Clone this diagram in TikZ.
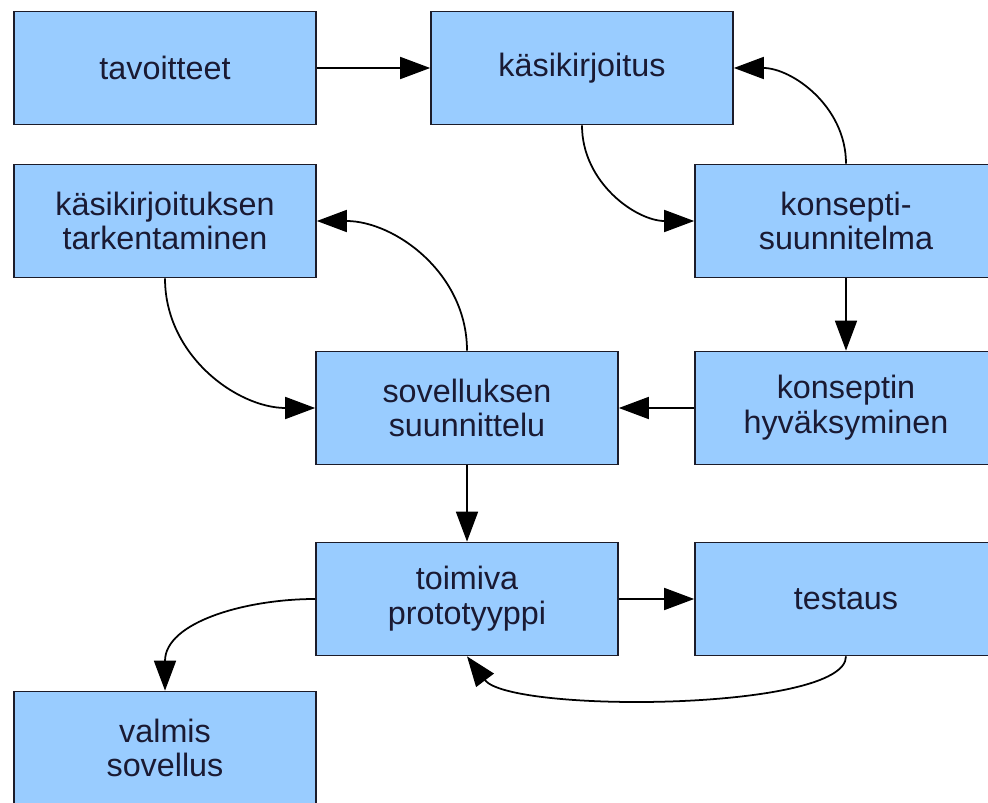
\documentclass[tikz,border=0pt]{standalone}
\usepackage{fontspec}
\setmainfont{Liberation Sans}
\usetikzlibrary{arrows.meta}
\definecolor{boxfill}{HTML}{99CCFF}
\definecolor{boxline}{HTML}{1C1C2A}
\definecolor{boxtext}{HTML}{1A1A33}

\begin{document}
\begin{tikzpicture}[x=0.02cm, y=-0.02cm,
    box/.style={draw=boxline, fill=boxfill, line width=1pt,
        minimum width=6.04cm, minimum height=2.26cm, inner sep=0pt,
        align=center, text=boxtext, font=\fontsize{18.4}{19.8}\selectfont},
    link/.style={-{Triangle[length=0.6cm, width=0.44cm]}, line width=1pt}]
    % Page frame
    \clip (0,0) rectangle (988,803);
    \fill[white] (0,0) rectangle (988,803);
    % Draw boxes
    \node[box] (tav) at (165,68) {tavoitteet};
    \node[box] (kas) at (582,68) {käsikirjoitus};
    \node[box] (tark) at (165,221) {käsikirjoituksen\\tarkentaminen};
    \node[box] (kons) at (846,221) {konsepti-\\suunnitelma};
    \node[box] (sov) at (467,408) {sovelluksen\\suunnittelu};
    \node[box] (hyv) at (846,408) {konseptin\\hyväksyminen};
    \node[box] (toim) at (467,599) {toimiva\\prototyyppi};
    \node[box] (test) at (846,599) {testaus};
    \node[box] (valm) at (165,748) {valmis\\sovellus};
    % Draw arrows
    \draw[link] (tav) -- (kas);
    \draw[link] (kas.south) to[out=-90,in=180] (kons.west);
    \draw[link] (kons.north) to[out=90,in=0] (kas.east);
    \draw[link] (kons) -- (hyv);
    \draw[link] (hyv) -- (sov);
    \draw[link] (sov.north) to[out=90,in=0] (tark.east);
    \draw[link] (tark.south) to[out=-90,in=180] (sov.west);
    \draw[link] (sov) -- (toim);
    \draw[link] (toim) -- (test);
    \draw[link] (test.south) .. controls +(0,55) and +(43,57) .. (toim.south);
    \draw[link] (toim.west) to[out=180,in=90] (valm.north);
\end{tikzpicture}
\end{document}
